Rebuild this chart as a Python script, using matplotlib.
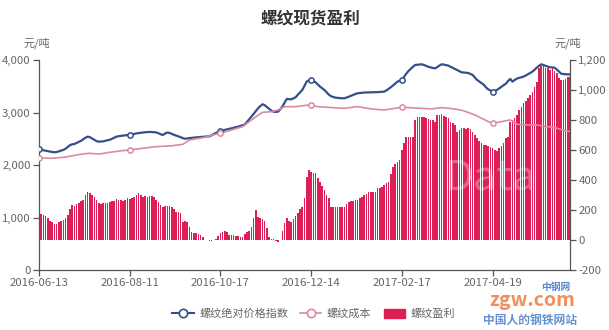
import matplotlib
matplotlib.use("Agg")
import numpy as np
import matplotlib.pyplot as plt
from matplotlib.lines import Line2D
from matplotlib.patches import FancyBboxPatch
from matplotlib.ticker import FuncFormatter

plt.rcParams['font.family'] = ['Noto Sans CJK SC', 'DejaVu Sans']

# x-axis labels, one every 41 trading days
tick_labels = ['2016-06-13', '2016-08-11', '2016-10-17', '2016-12-14', '2017-02-17', '2017-04-19']
tick_step = 41

# 螺纹绝对价格指数 (元/吨, left axis)
price_index = [
    2299, 2290, 2280, 2270, 2262, 2255, 2248, 2242, 2248, 2260,
    2275, 2286, 2310, 2345, 2378, 2394, 2400, 2420, 2440, 2460,
    2490, 2520, 2540, 2530, 2505, 2480, 2455, 2445, 2448, 2450,
    2462, 2472, 2480, 2500, 2522, 2540, 2548, 2555, 2560, 2565,
    2570, 2572, 2580, 2592, 2602, 2608, 2612, 2618, 2624, 2628,
    2630, 2628, 2625, 2620, 2605, 2585, 2572, 2600, 2620, 2610,
    2592, 2575, 2560, 2545, 2530, 2512, 2500, 2505, 2512, 2518,
    2522, 2526, 2532, 2536, 2540, 2542, 2544, 2545, 2565, 2590,
    2612, 2632, 2648, 2658, 2668, 2678, 2686, 2698, 2710, 2720,
    2730, 2745, 2758, 2770, 2820, 2870, 2921, 2975, 3030, 3080,
    3120, 3156, 3140, 3105, 3070, 3035, 3016, 3012, 3016, 3060,
    3111, 3190, 3258, 3255, 3250, 3270, 3290, 3340, 3385, 3429,
    3510, 3588, 3610, 3620, 3600, 3575, 3535, 3493, 3460, 3429,
    3385, 3340, 3310, 3295, 3283, 3278, 3274, 3271, 3270, 3285,
    3300, 3318, 3335, 3352, 3366, 3372, 3376, 3380, 3381, 3382,
    3383, 3384, 3385, 3388, 3391, 3394, 3397, 3420, 3450, 3480,
    3515, 3550, 3588, 3605, 3620, 3680, 3740, 3790, 3830, 3870,
    3905, 3910, 3915, 3918, 3905, 3888, 3870, 3858, 3848, 3842,
    3865, 3895, 3918, 3912, 3902, 3893, 3872, 3850, 3829, 3808,
    3787, 3766, 3762, 3757, 3753, 3735, 3715, 3668, 3620, 3590,
    3560, 3530, 3480, 3442, 3420, 3397, 3412, 3429, 3460, 3493,
    3520, 3548, 3600, 3639, 3588, 3620, 3645, 3660, 3672, 3683,
    3705, 3728, 3752, 3778, 3815, 3855, 3890, 3918, 3905, 3888,
    3875, 3861, 3858, 3855, 3820, 3780, 3740, 3732, 3728, 3726,
    3725,
]

# 螺纹成本 (元/吨, left axis)
cost = [
    2140, 2138, 2135, 2132, 2129, 2127, 2130, 2133, 2136, 2140,
    2143, 2146, 2152, 2160, 2168, 2176, 2184, 2191, 2198, 2205,
    2210, 2216, 2220, 2222, 2219, 2215, 2212, 2210, 2214, 2222,
    2230, 2236, 2242, 2248, 2255, 2260, 2265, 2270, 2274, 2278,
    2282, 2286, 2292, 2297, 2303, 2308, 2313, 2318, 2324, 2330,
    2336, 2342, 2346, 2350, 2352, 2354, 2356, 2358, 2360, 2362,
    2366, 2372, 2378, 2384, 2390, 2394, 2420, 2450, 2477, 2484,
    2490, 2498, 2505, 2512, 2520, 2528, 2540, 2553, 2563, 2575,
    2587, 2596, 2604, 2617, 2630, 2642, 2655, 2667, 2680, 2692,
    2705, 2718, 2730, 2762, 2794, 2826, 2858, 2888, 2918, 2948,
    2975, 3003, 3006, 3010, 3013, 3016, 3026, 3037, 3048, 3070,
    3090, 3111, 3111, 3112, 3110, 3111, 3111, 3116, 3121, 3126,
    3130, 3136, 3143, 3138, 3128, 3118, 3111, 3108, 3105, 3100,
    3097, 3094, 3092, 3090, 3088, 3086, 3084, 3082, 3080, 3086,
    3092, 3098, 3104, 3108, 3111, 3104, 3097, 3090, 3083, 3076,
    3069, 3065, 3061, 3057, 3054, 3051, 3048, 3055, 3062, 3068,
    3074, 3080, 3087, 3093, 3099, 3097, 3095, 3094, 3092, 3090,
    3087, 3084, 3082, 3080, 3077, 3074, 3071, 3068, 3072, 3077,
    3083, 3088, 3092, 3090, 3086, 3082, 3076, 3071, 3067, 3059,
    3050, 3042, 3032, 3016, 2999, 2982, 2966, 2953, 2932, 2911,
    2890, 2869, 2848, 2827, 2808, 2794, 2802, 2810, 2818, 2826,
    2834, 2842, 2850, 2858, 2832, 2805, 2780, 2772, 2768, 2765,
    2763, 2762, 2762, 2762, 2762, 2762, 2755, 2748, 2741, 2735,
    2730, 2725, 2718, 2711, 2702, 2690, 2678, 2665, 2652, 2645,
    2640,
]

# 螺纹盈利 (元/吨, right axis)
profit = [
    178, 176, 168, 160, 145, 125, 118, 110, 108, 118,
    125, 136, 150, 168, 205, 233, 228, 240, 248, 262,
    270, 300, 322, 315, 300, 285, 267, 245, 238, 250,
    249, 245, 252, 258, 262, 271, 268, 264, 262, 270,
    278, 276, 282, 285, 300, 311, 298, 289, 292, 290,
    291, 295, 289, 265, 251, 235, 222, 226, 229, 225,
    222, 205, 189, 185, 178, 122, 125, 122, 90, 56,
    50, 44, 40, 36, 20, 0, -3, -4, -4, -1,
    5, 25, 44, 56, 58, 56, 33, 35, 33, 30,
    29, 20, 18, 40, 55, 62, 89, 150, 200, 156,
    145, 140, 127, 78, 18, 10, 7, -8, -11, 0,
    60, 111, 144, 130, 122, 140, 160, 180, 205, 222,
    278, 420, 467, 456, 450, 444, 415, 389, 360, 333,
    300, 278, 222, 222, 220, 222, 221, 222, 222, 240,
    256, 258, 262, 267, 270, 278, 290, 300, 305, 318,
    322, 320, 318, 344, 350, 356, 365, 378, 389, 440,
    489, 510, 522, 533, 600, 650, 689, 689, 689, 690,
    800, 818, 822, 822, 818, 811, 805, 800, 800, 789,
    833, 836, 838, 830, 820, 811, 790, 778, 767, 722,
    735, 744, 744, 742, 744, 740, 720, 700, 680, 660,
    649, 633, 633, 629, 622, 611, 600, 593, 611, 630,
    644, 678, 689, 789, 800, 815, 833, 867, 890, 911,
    930, 944, 967, 989, 1020, 1056, 1144, 1160, 1167, 1150,
    1144, 1133, 1144, 1130, 1111, 1080, 1067, 1067, 1075, 1089,
    1089,
]

blue = '#34508a'
pink = '#dc8aa2'
red = '#dd1f55'
grey_txt = '#666666'
axis_col = '#555555'

x = np.arange(len(profit))
tick_pos = x[::tick_step][:len(tick_labels)]

fig = plt.figure(figsize=(6.09, 3.30), dpi=100)
ax = fig.add_axes([39 / 609, 1 - 270 / 330, 531 / 609, 210 / 330])
ax2 = ax.twinx()
ax.set_zorder(ax2.get_zorder() + 1)
ax.patch.set_visible(False)

# profit bars on the right axis
ax2.bar(x, profit, width=0.72, color=red, linewidth=0)
ax2.set_ylim(-200, 1200)
ax2.set_yticks(np.arange(-200, 1201, 200))

# price and cost lines on the left axis
ax.plot(x, price_index, color=blue, lw=1.6, zorder=3)
ax.plot(x, cost, color=pink, lw=1.2, zorder=3)
ax.plot(tick_pos, np.array(price_index)[tick_pos], 'o', ms=3.8, mfc='white',
        mec=blue, mew=1.1, zorder=4)
ax.plot(tick_pos, np.array(cost)[tick_pos], 'o', ms=3.8, mfc='white',
        mec=pink, mew=1.1, zorder=4)
ax.set_ylim(0, 4000)
ax.set_yticks(np.arange(0, 4001, 1000))
ax.set_xlim(0, len(profit) - 1)
ax.set_xticks(tick_pos)
ax.set_xticklabels(tick_labels)

fmt = FuncFormatter(lambda v, p: f'{v:,.0f}')
ax.yaxis.set_major_formatter(fmt)
ax2.yaxis.set_major_formatter(fmt)

for a in (ax, ax2):
    for s in a.spines.values():
        s.set_visible(False)
    a.tick_params(colors=axis_col, labelcolor=grey_txt, labelsize=8.2,
                  length=4, width=0.9, pad=2)
ax.spines['left'].set_visible(True)
ax.spines['bottom'].set_visible(True)
ax2.spines['right'].set_visible(True)
for s in (ax.spines['left'], ax.spines['bottom'], ax2.spines['right']):
    s.set_color(axis_col)
    s.set_linewidth(0.9)

# faint watermark inside the plot
ax.text(0.85, 0.44, 'Data', transform=ax.transAxes, fontsize=30,
        color='white', alpha=0.3, ha='center', va='center', zorder=5)

fig.text(0.51, 0.945, '螺纹现货盈利', ha='center', va='center',
         fontsize=12, fontweight='bold', color='#333333')
fig.text(37 / 609, 1 - 43 / 330, '元/吨', ha='center', va='center',
         fontsize=8, color=grey_txt)
fig.text(568 / 609, 1 - 43 / 330, '元/吨', ha='center', va='center',
         fontsize=8, color=grey_txt)

handles = [
    Line2D([], [], color=blue, lw=1.5, marker='o', ms=6, mfc='white', mec=blue, mew=1.2),
    Line2D([], [], color=pink, lw=1.2, marker='o', ms=6, mfc='white', mec=pink, mew=1.2),
    FancyBboxPatch((0, 0), 1, 1, boxstyle='round,pad=0.1', color=red),
]
leg = fig.legend(handles, ['螺纹绝对价格指数', '螺纹成本', '螺纹盈利'],
                 loc='center', bbox_to_anchor=(0.515, 1 - 314 / 330), ncol=3,
                 frameon=False, fontsize=8, handlelength=1.9, handleheight=0.9,
                 handletextpad=0.5, columnspacing=1.1)
for t in leg.get_texts():
    t.set_color(grey_txt)

# site watermark in the lower-right corner
fig.text(532 / 609, 1 - 301 / 330, 'zgw.com', ha='center', va='center',
         fontsize=14, fontweight='bold', style='italic', color='#f07a3c', alpha=0.85)
fig.text(556 / 609, 1 - 287 / 330, '中钢网', ha='center', va='center',
         fontsize=7, fontweight='bold', color='#3f6fc4', alpha=0.85)
fig.text(530 / 609, 1 - 320 / 330, '中国人的钢铁网站', ha='center', va='center',
         fontsize=8.5, fontweight='bold', color='#4a7fc8', alpha=0.85)

fig.savefig('out.png', dpi=100)
